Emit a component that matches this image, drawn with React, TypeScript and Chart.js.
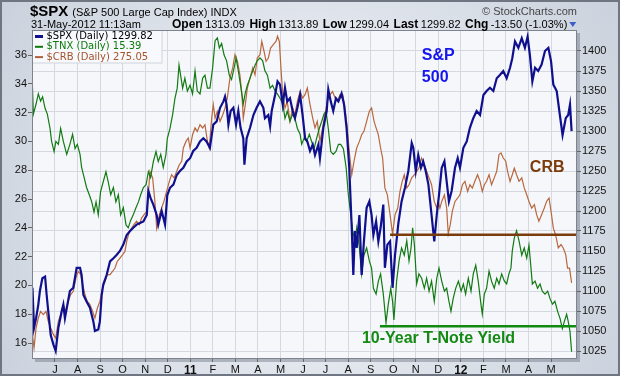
import { useEffect, useRef } from 'react';
import { Chart, registerables } from 'chart.js';
Chart.register(...registerables);

// x values are months counted from 1-Jun-2010 (1 = Jul 2010 ... 23 = May 2012)
const monthTicks = [1, 2, 3, 4, 5, 6, 7, 8, 9, 10, 11, 12, 13, 14, 15, 16, 17, 18, 19, 20, 21, 22, 23];
const monthLabels = ['J', 'A', 'S', 'O', 'N', 'D', '11', 'F', 'M', 'A', 'M', 'J', 'J', 'A', 'S', 'O', 'N', 'D', '12', 'F', 'M', 'A', 'M'];
const tnxTicks = [16, 18, 20, 22, 24, 26, 28, 30, 32, 34, 36];
const spxTicks = [1025, 1050, 1075, 1100, 1125, 1150, 1175, 1200, 1225, 1250, 1275, 1300, 1325, 1350, 1375, 1400];

const spxMonths = [0.0, 0.07, 0.16, 0.26, 0.33, 0.44, 0.56, 0.63, 0.70, 0.81, 0.93, 1.03, 1.15, 1.30, 1.37, 1.44, 1.55, 1.66, 1.81, 1.96, 2.11, 2.18, 2.26, 2.40, 2.55, 2.70, 2.77, 2.92, 2.99, 3.07, 3.14, 3.29, 3.44, 3.59, 3.73, 3.88, 4.03, 4.18, 4.33, 4.47, 4.62, 4.77, 4.92, 5.07, 5.14, 5.24, 5.36, 5.51, 5.58, 5.73, 5.88, 5.98, 6.10, 6.25, 6.40, 6.54, 6.69, 6.84, 6.99, 7.13, 7.28, 7.43, 7.58, 7.72, 7.87, 8.02, 8.17, 8.32, 8.47, 8.54, 8.61, 8.69, 8.79, 8.91, 9.03, 9.13, 9.23, 9.35, 9.40, 9.50, 9.65, 9.80, 9.94, 10.09, 10.24, 10.31, 10.46, 10.54, 10.61, 10.76, 10.87, 10.98, 11.10, 11.20, 11.30, 11.42, 11.54, 11.64, 11.75, 11.87, 11.98, 12.09, 12.19, 12.31, 12.43, 12.53, 12.68, 12.75, 12.90, 13.05, 13.12, 13.23, 13.34, 13.46, 13.57, 13.71, 13.82, 13.93, 14.05, 14.16, 14.23, 14.30, 14.38, 14.50, 14.60, 14.70, 14.82, 14.94, 15.04, 15.12, 15.24, 15.34, 15.44, 15.56, 15.63, 15.74, 15.86, 15.97, 16.08, 16.23, 16.37, 16.52, 16.67, 16.82, 16.89, 17.00, 17.11, 17.23, 17.33, 17.44, 17.56, 17.70, 17.82, 17.93, 18.03, 18.15, 18.27, 18.37, 18.47, 18.59, 18.74, 18.86, 18.96, 19.11, 19.26, 19.40, 19.55, 19.70, 19.85, 20.00, 20.14, 20.29, 20.44, 20.59, 20.73, 20.88, 21.03, 21.18, 21.28, 21.40, 21.55, 21.70, 21.84, 21.96, 22.06, 22.17, 22.29, 22.43, 22.58, 22.73, 22.88, 23.00, 23.10, 23.25, 23.39, 23.51, 23.65, 23.76, 23.84, 23.91];
const spxValues = [1104, 1054, 1066, 1083, 1100, 1116, 1118, 1095, 1075, 1045, 1033, 1025, 1054, 1075, 1083, 1066, 1083, 1100, 1104, 1129, 1129, 1120, 1095, 1087, 1079, 1062, 1050, 1052, 1062, 1095, 1108, 1120, 1137, 1141, 1145, 1150, 1158, 1170, 1175, 1179, 1183, 1185, 1187, 1195, 1225, 1216, 1208, 1195, 1183, 1200, 1183, 1220, 1229, 1233, 1245, 1250, 1254, 1262, 1266, 1275, 1279, 1287, 1291, 1287, 1279, 1308, 1312, 1329, 1337, 1343, 1333, 1308, 1325, 1329, 1308, 1325, 1304, 1291, 1258, 1291, 1304, 1320, 1329, 1337, 1329, 1316, 1320, 1306, 1325, 1345, 1362, 1358, 1333, 1354, 1337, 1341, 1325, 1316, 1329, 1345, 1320, 1291, 1287, 1275, 1283, 1270, 1283, 1266, 1304, 1325, 1352, 1337, 1325, 1341, 1337, 1347, 1333, 1304, 1254, 1179, 1120, 1175, 1154, 1195, 1120, 1162, 1204, 1212, 1195, 1170, 1187, 1162, 1179, 1208, 1129, 1158, 1162, 1104, 1145, 1185, 1212, 1229, 1250, 1285, 1279, 1250, 1270, 1254, 1262, 1250, 1233, 1195, 1162, 1195, 1220, 1254, 1262, 1237, 1212, 1225, 1254, 1266, 1254, 1279, 1287, 1304, 1316, 1325, 1320, 1345, 1350, 1354, 1350, 1366, 1370, 1375, 1366, 1379, 1391, 1412, 1404, 1416, 1404, 1418, 1395, 1362, 1379, 1375, 1383, 1400, 1404, 1387, 1358, 1350, 1320, 1295, 1316, 1320, 1333, 1299.8];

const tnxMonths = [0.0, 0.04, 0.16, 0.26, 0.36, 0.45, 0.56, 0.66, 0.78, 0.85, 0.96, 1.04, 1.15, 1.25, 1.37, 1.52, 1.66, 1.78, 1.89, 1.99, 2.11, 2.18, 2.29, 2.40, 2.52, 2.63, 2.73, 2.82, 2.92, 3.02, 3.14, 3.26, 3.36, 3.47, 3.59, 3.70, 3.81, 3.91, 4.03, 4.15, 4.25, 4.35, 4.47, 4.59, 4.70, 4.80, 4.92, 5.04, 5.14, 5.24, 5.36, 5.48, 5.58, 5.69, 5.80, 5.92, 5.98, 6.10, 6.22, 6.32, 6.42, 6.50, 6.57, 6.66, 6.76, 6.87, 6.99, 7.10, 7.21, 7.31, 7.43, 7.55, 7.65, 7.76, 7.87, 7.99, 8.10, 8.20, 8.29, 8.39, 8.50, 8.61, 8.73, 8.83, 8.94, 9.03, 9.13, 9.23, 9.35, 9.43, 9.53, 9.65, 9.77, 9.87, 9.97, 10.09, 10.21, 10.31, 10.42, 10.54, 10.65, 10.76, 10.86, 10.98, 11.10, 11.20, 11.30, 11.42, 11.54, 11.64, 11.75, 11.87, 11.94, 12.04, 12.16, 12.28, 12.38, 12.49, 12.60, 12.72, 12.83, 12.93, 13.02, 13.12, 13.23, 13.34, 13.46, 13.57, 13.67, 13.79, 13.91, 14.01, 14.08, 14.20, 14.30, 14.38, 14.50, 14.60, 14.70, 14.82, 14.94, 15.04, 15.12, 15.24, 15.34, 15.44, 15.56, 15.68, 15.78, 15.89, 15.97, 16.03, 16.15, 16.26, 16.37, 16.49, 16.60, 16.70, 16.79, 16.86, 16.94, 17.04, 17.14, 17.26, 17.38, 17.48, 17.59, 17.70, 17.82, 17.93, 18.03, 18.15, 18.27, 18.37, 18.47, 18.56, 18.66, 18.77, 18.89, 19.01, 19.11, 19.21, 19.33, 19.45, 19.55, 19.66, 19.77, 19.89, 19.95, 20.04, 20.14, 20.25, 20.36, 20.48, 20.59, 20.69, 20.81, 20.93, 21.03, 21.13, 21.22, 21.28, 21.37, 21.47, 21.58, 21.70, 21.81, 21.92, 22.02, 22.11, 22.17, 22.29, 22.40, 22.51, 22.61, 22.73, 22.85, 22.95, 23.06, 23.17, 23.29, 23.40, 23.50, 23.59, 23.69, 23.76, 23.84, 23.91];
const tnxValues = [33.8, 31.9, 32.6, 33.3, 32.8, 33.1, 32.3, 31.9, 30.9, 30.0, 29.3, 30.0, 29.8, 30.9, 30.0, 29.1, 29.8, 30.5, 29.5, 29.8, 29.1, 28.2, 27.5, 26.8, 26.3, 25.8, 25.1, 25.8, 24.9, 26.5, 27.2, 27.9, 27.2, 26.3, 26.8, 25.8, 26.3, 24.9, 25.4, 24.2, 24.0, 24.5, 24.9, 25.4, 25.8, 26.3, 26.8, 27.0, 27.9, 27.5, 28.6, 29.3, 28.6, 29.1, 28.2, 29.1, 30.2, 30.9, 31.9, 33.0, 33.7, 35.3, 34.6, 33.7, 34.4, 33.5, 33.9, 33.3, 34.9, 33.5, 33.3, 34.4, 34.6, 33.7, 33.7, 35.1, 37.0, 37.2, 36.5, 36.8, 36.0, 35.6, 34.6, 34.3, 35.1, 35.8, 34.9, 33.9, 32.6, 33.3, 33.9, 34.4, 34.9, 35.3, 35.6, 35.8, 35.6, 34.9, 34.6, 33.7, 33.9, 33.5, 33.3, 33.0, 32.6, 31.6, 32.1, 31.4, 31.9, 31.6, 30.9, 30.5, 29.8, 30.2, 30.0, 30.5, 30.0, 29.5, 30.2, 30.9, 31.4, 31.9, 32.1, 30.9, 29.3, 29.1, 29.3, 29.8, 29.8, 29.5, 28.2, 26.3, 25.4, 23.8, 23.1, 24.0, 22.6, 20.8, 22.1, 22.6, 21.7, 21.2, 19.8, 19.4, 20.3, 20.8, 19.4, 17.4, 18.7, 19.8, 18.9, 17.6, 20.3, 21.7, 22.6, 22.1, 23.1, 21.7, 22.6, 24.0, 22.8, 20.1, 20.8, 20.5, 19.8, 20.5, 19.6, 20.3, 18.9, 20.5, 21.2, 20.3, 19.6, 19.8, 18.9, 18.2, 19.1, 19.8, 20.3, 19.6, 20.1, 19.4, 20.5, 19.6, 20.8, 21.4, 20.3, 18.7, 18.0, 19.4, 19.8, 21.0, 20.3, 19.8, 20.5, 20.1, 20.8, 20.3, 20.1, 20.8, 21.2, 22.4, 23.3, 23.8, 23.1, 22.1, 22.6, 21.9, 22.8, 21.2, 20.1, 20.3, 19.8, 20.1, 19.6, 19.4, 19.6, 19.1, 18.7, 18.9, 18.2, 17.7, 17.0, 17.5, 18.0, 17.5, 16.8, 15.39];

const crbMonths = [0.0, 0.07, 0.16, 0.26, 0.36, 0.48, 0.60, 0.70, 0.81, 0.93, 1.03, 1.15, 1.25, 1.37, 1.49, 1.59, 1.69, 1.81, 1.93, 2.03, 2.14, 2.23, 2.33, 2.43, 2.55, 2.67, 2.77, 2.88, 2.99, 3.11, 3.22, 3.32, 3.44, 3.56, 3.66, 3.76, 3.88, 4.00, 4.10, 4.18, 4.30, 4.40, 4.50, 4.62, 4.74, 4.84, 4.95, 5.07, 5.14, 5.21, 5.33, 5.43, 5.51, 5.63, 5.73, 5.83, 5.95, 6.07, 6.17, 6.28, 6.40, 6.51, 6.62, 6.69, 6.81, 6.91, 6.99, 7.10, 7.21, 7.31, 7.43, 7.55, 7.65, 7.76, 7.84, 7.95, 8.02, 8.10, 8.20, 8.32, 8.44, 8.54, 8.64, 8.76, 8.88, 8.98, 9.09, 9.20, 9.29, 9.35, 9.44, 9.53, 9.65, 9.77, 9.87, 9.97, 10.09, 10.17, 10.27, 10.36, 10.46, 10.56, 10.68, 10.80, 10.87, 10.95, 11.02, 11.10, 11.20, 11.30, 11.42, 11.54, 11.64, 11.75, 11.87, 11.98, 12.09, 12.19, 12.31, 12.43, 12.53, 12.63, 12.75, 12.87, 12.97, 13.08, 13.20, 13.31, 13.42, 13.52, 13.64, 13.76, 13.86, 13.96, 14.05, 14.16, 14.26, 14.38, 14.50, 14.60, 14.70, 14.82, 14.94, 15.04, 15.15, 15.24, 15.34, 15.44, 15.53, 15.63, 15.74, 15.86, 15.97, 16.08, 16.20, 16.30, 16.40, 16.49, 16.60, 16.70, 16.82, 16.94, 17.04, 17.14, 17.26, 17.38, 17.48, 17.59, 17.70, 17.82, 17.93, 18.00, 18.07, 18.15, 18.27, 18.37, 18.44, 18.53, 18.62, 18.74, 18.86, 18.96, 19.07, 19.18, 19.30, 19.40, 19.51, 19.62, 19.74, 19.85, 19.95, 20.04, 20.14, 20.25, 20.36, 20.48, 20.59, 20.69, 20.78, 20.88, 20.99, 21.07, 21.18, 21.28, 21.37, 21.47, 21.58, 21.70, 21.81, 21.92, 22.02, 22.14, 22.26, 22.36, 22.46, 22.58, 22.70, 22.80, 22.91, 23.00, 23.10, 23.20, 23.32, 23.44, 23.54, 23.65, 23.73, 23.82, 23.91];
const crbValues = [253.9, 248.5, 256.6, 260.7, 263.4, 262.1, 263.4, 259.4, 256.6, 253.9, 252.5, 259.4, 262.1, 266.2, 263.4, 267.5, 270.2, 271.6, 277.0, 279.8, 278.4, 274.3, 270.2, 267.5, 266.2, 263.4, 260.7, 264.8, 267.5, 272.9, 275.7, 278.4, 278.4, 279.8, 281.1, 283.8, 285.2, 286.6, 287.9, 292.0, 296.1, 297.4, 298.8, 300.2, 298.8, 301.5, 302.9, 304.2, 311.1, 320.6, 317.9, 308.3, 297.4, 302.9, 305.6, 308.3, 312.4, 316.5, 319.2, 317.9, 320.6, 323.3, 324.7, 330.1, 332.8, 334.2, 330.1, 335.5, 338.3, 336.9, 339.6, 338.3, 339.6, 332.8, 330.1, 342.4, 347.8, 342.3, 345.1, 341.0, 343.7, 346.4, 350.5, 358.7, 362.8, 368.2, 365.5, 360.0, 351.9, 342.3, 347.8, 354.6, 358.7, 362.8, 360.0, 366.8, 368.2, 373.6, 369.6, 365.5, 366.8, 370.9, 372.3, 373.6, 375.7, 373.6, 362.8, 351.9, 346.4, 349.1, 341.0, 346.4, 343.7, 349.1, 353.2, 350.5, 351.9, 354.6, 347.8, 342.3, 338.3, 341.0, 332.8, 338.3, 343.7, 349.1, 351.9, 353.2, 350.5, 349.1, 351.9, 351.9, 346.4, 338.3, 328.7, 319.2, 324.7, 330.1, 332.8, 335.5, 336.9, 341.0, 345.1, 346.4, 341.0, 338.3, 335.5, 330.1, 326.0, 313.8, 311.0, 302.9, 295.0, 302.9, 305.6, 312.4, 316.5, 319.2, 313.8, 315.1, 317.9, 319.2, 320.6, 321.9, 326.0, 323.3, 320.6, 317.9, 315.1, 308.3, 305.6, 308.3, 305.6, 308.3, 311.0, 305.6, 295.0, 298.8, 304.2, 308.3, 309.7, 311.0, 315.1, 316.5, 312.4, 315.1, 313.8, 316.5, 319.2, 316.5, 312.4, 315.1, 316.5, 319.2, 315.1, 317.9, 320.6, 327.4, 328.1, 326.0, 324.7, 320.6, 316.5, 319.2, 321.9, 319.2, 316.5, 317.9, 313.8, 311.0, 308.3, 305.6, 307.0, 302.9, 300.2, 302.9, 305.6, 308.3, 309.7, 304.2, 297.4, 294.7, 289.3, 290.7, 289.3, 286.6, 281.1, 281.1, 275.05];

// support lines drawn on the reference: [start month, level]
const crbSupport = [15.86, 294.7];
const tnxSupport = [15.41, 17.16];

const X_MIN = -0.02;
const X_MAX = 24.15;

const FONT = "Arial, 'Liberation Sans', sans-serif";

const annotations = [
  { text: 'S&P', x: 17.27, y: 1393.75, axis: 'ySpx', color: '#1515ee' },
  { text: '500', x: 17.27, y: 1367, axis: 'ySpx', color: '#1515ee' },
  { text: 'CRB', x: 22.06, y: 322.3, axis: 'yCrb', color: '#7a3c0c' },
  { text: '10-Year T-Note Yield', x: 14.61, y: 16.28, axis: 'yTnx', color: '#148a14' },
];

const legendItems = [
  { text: '$SPX (Daily) 1299.82', color: '#000000', line: '#10108e', width: 3 },
  { text: '$TNX (Daily) 15.39', color: '#0b7a0b', line: '#0b7a0b', width: 2 },
  { text: '$CRB (Daily) 275.05', color: '#a3542b', line: '#b0603a', width: 2 },
];

const decorPlugin = {
  id: 'decor',
  beforeDraw(chart: any) {
    const { ctx, chartArea: a, width, height } = chart;
    ctx.save();
    const g = ctx.createRadialGradient(width * 0.5, height * 0.55, 40, width * 0.5, height * 0.5, 420);
    g.addColorStop(0, '#f1f4f9');
    g.addColorStop(1, '#c3cbd7');
    ctx.fillStyle = g;
    ctx.fillRect(0, 0, width, height);
    ctx.fillStyle = 'rgba(110,118,130,0.45)';
    ctx.fillRect(a.left + 3, a.top + 3, a.right - a.left, a.bottom - a.top);
    ctx.fillStyle = '#f5f7fb';
    ctx.fillRect(a.left, a.top, a.right - a.left, a.bottom - a.top);
    ctx.restore();
  },
  afterDatasetsDraw(chart: any) {
    const { ctx, scales } = chart;
    ctx.save();
    ctx.font = `bold 16px ${FONT}`;
    ctx.textAlign = 'left';
    ctx.textBaseline = 'middle';
    for (const an of annotations) {
      ctx.fillStyle = an.color;
      ctx.fillText(an.text, scales.x.getPixelForValue(an.x), scales[an.axis].getPixelForValue(an.y));
    }
    // legend
    const a = chart.chartArea;
    ctx.fillStyle = '#f7f9fc';
    ctx.fillRect(a.left + 1, a.top + 1, 129, 32);
    ctx.strokeStyle = '#cfd3db';
    ctx.lineWidth = 1;
    ctx.strokeRect(a.left + 0.5, a.top + 0.5, 129.5, 32.5);
    ctx.font = `10px 'DejaVu Sans', Verdana, sans-serif`;
    legendItems.forEach((it, i) => {
      const y = a.top + 6.5 + i * 10.3;
      ctx.strokeStyle = it.line;
      ctx.lineWidth = it.width;
      ctx.beginPath();
      ctx.moveTo(a.left + 3, y);
      ctx.lineTo(a.left + 11, y);
      ctx.stroke();
      ctx.fillStyle = it.color;
      ctx.fillText(it.text, a.left + 14.5, y);
    });
    ctx.restore();
  },
  afterDraw(chart: any) {
    const { ctx, chartArea: a, width, height } = chart;
    ctx.save();
    ctx.strokeStyle = '#7d848f';
    ctx.lineWidth = 1;
    ctx.strokeRect(a.left + 0.5, a.top + 0.5, a.right - a.left - 1, a.bottom - a.top - 1);
    // header
    ctx.textBaseline = 'alphabetic';
    ctx.textAlign = 'left';
    ctx.fillStyle = '#000';
    ctx.font = `bold 15px ${FONT}`;
    ctx.fillText('$SPX', 30, 16);
    let x = 30 + ctx.measureText('$SPX').width + 4;
    ctx.font = `11px ${FONT}`;
    ctx.fillText('(S&P 500 Large Cap Index)', x, 16);
    x += ctx.measureText('(S&P 500 Large Cap Index)').width + 3;
    ctx.fillText('INDX', x, 16);
    ctx.fillStyle = '#444';
    ctx.textAlign = 'right';
    ctx.fillText('\u00A9 StockCharts.com', 577, 15);
    ctx.textAlign = 'left';
    ctx.fillStyle = '#000';
    ctx.fillText('31-May-2012 11:13am', 31, 28);
    const parts: [string, boolean][] = [
      ['Open', true], ['1313.09', false], ['High', true], ['1313.89', false], ['Low', true],
      ['1299.04', false], ['Last', true], ['1299.82', false], ['Chg', true], ['-13.50 (-1.03%)', false],
    ];
    x = 172;
    parts.forEach(([t, b], i) => {
      ctx.font = b ? `bold 12px ${FONT}` : `11px ${FONT}`;
      ctx.fillText(t, x, 28);
      x += ctx.measureText(t).width + (b ? 2.5 : i === parts.length - 1 ? 2 : 4.5);
    });
    ctx.fillStyle = '#3b5fc8';
    ctx.beginPath();
    ctx.moveTo(x, 22);
    ctx.lineTo(x + 7, 22);
    ctx.lineTo(x + 3.5, 27);
    ctx.closePath();
    ctx.fill();
    // outer frame
    ctx.strokeStyle = '#6f7682';
    ctx.lineWidth = 2;
    ctx.strokeRect(1, 1, width - 2, height - 2);
    ctx.restore();
  },
};

export default function App() {
  const ref = useRef<HTMLCanvasElement | null>(null);
  useEffect(() => {
    document.body.style.margin = '0';
    const canvas = ref.current!;
    const pts = (xs: number[], ys: number[]) => xs.map((m, i) => ({ x: m, y: ys[i] }));
    const chart = new Chart(canvas, {
      type: 'line',
      data: {
        datasets: [
          {
            data: pts(spxMonths, spxValues), yAxisID: 'ySpx', borderColor: '#10108e', borderWidth: 2.2,
            pointRadius: 0, tension: 0, order: 1,
          },
          {
            data: pts(tnxMonths, tnxValues), yAxisID: 'yTnx', borderColor: '#127a12', borderWidth: 1.2,
            pointRadius: 0, tension: 0, order: 2,
          },
          {
            data: pts(crbMonths, crbValues), yAxisID: 'yCrb', borderColor: '#b8683e', borderWidth: 1.2,
            pointRadius: 0, tension: 0, order: 3,
          },
          {
            data: [{ x: crbSupport[0], y: crbSupport[1] }, { x: X_MAX, y: crbSupport[1] }], yAxisID: 'yCrb',
            borderColor: '#7a3c0c', borderWidth: 2.5, pointRadius: 0, order: 0,
          },
          {
            data: [{ x: tnxSupport[0], y: tnxSupport[1] }, { x: X_MAX, y: tnxSupport[1] }], yAxisID: 'yTnx',
            borderColor: '#118a11', borderWidth: 2.5, pointRadius: 0, order: 0,
          },
        ],
      },
      options: {
        responsive: false,
        animation: false,
        events: [],
        layout: { padding: { top: 30, left: 0, right: 0, bottom: 0 } },
        plugins: { legend: { display: false }, tooltip: { enabled: false } },
        scales: {
          x: {
            type: 'linear', min: X_MIN, max: X_MAX,
            afterBuildTicks: (s: any) => { s.ticks = monthTicks.map((v) => ({ value: v })); },
            afterFit: (s: any) => { s.height = 17; },
            ticks: {
              autoSkip: false, maxRotation: 0, padding: 1, color: '#111',
              callback: (v: any) => monthLabels[monthTicks.indexOf(Number(v))],
              font: (c: any) => {
                const lbl = c.tick ? String(c.tick.label) : '';
                const yr = /^\d+$/.test(lbl);
                return { family: FONT, size: yr ? 12 : 11, weight: yr ? 'bold' : 'normal' };
              },
            },
            grid: { color: '#d4d8e0', tickColor: '#666', tickLength: 3 },
            border: { display: false },
          },
          yTnx: {
            type: 'linear', position: 'left', min: 14.89, max: 37.74,
            afterBuildTicks: (s: any) => { s.ticks = tnxTicks.map((v) => ({ value: v })); },
            afterFit: (s: any) => { s.width = 32; },
            ticks: { padding: 1, color: '#111', font: { family: FONT, size: 11 }, callback: (v: any) => String(v) },
            grid: { drawOnChartArea: false, tickColor: '#666', tickLength: 4 },
            border: { display: false },
          },
          ySpx: {
            type: 'linear', position: 'right', min: 1015, max: 1426.25,
            afterBuildTicks: (s: any) => { s.ticks = spxTicks.map((v) => ({ value: v })); },
            afterFit: (s: any) => { s.width = 43; },
            ticks: { padding: 1, color: '#111', font: { family: FONT, size: 11 }, callback: (v: any) => String(v) },
            grid: { color: '#d4d8e0', tickColor: '#666', tickLength: 4 },
            border: { display: false },
          },
          yCrb: { type: 'linear', display: false, min: 243.98, max: 378.27 },
        },
      },
      plugins: [decorPlugin],
    } as any);
    return () => chart.destroy();
  }, []);
  return <canvas ref={ref} width={620} height={376} style={{ display: 'block', width: 620, height: 376 }} />;
}
